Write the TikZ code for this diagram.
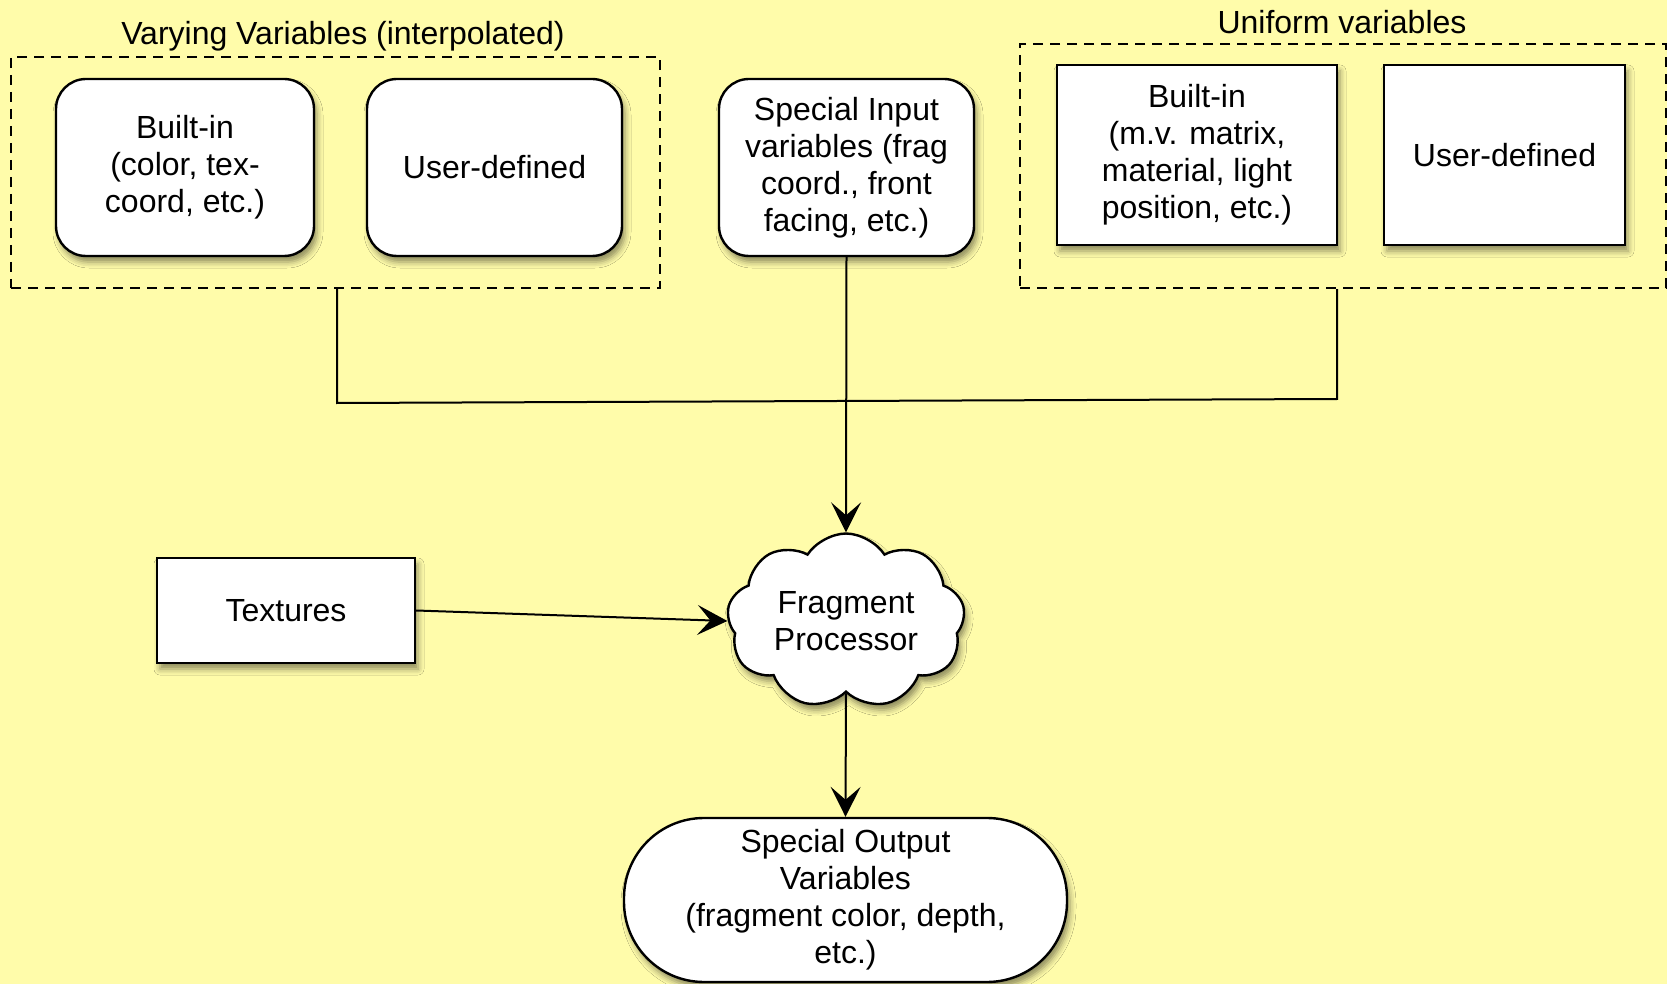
\documentclass[tikz,border=0pt]{standalone}
\usepackage{fontspec}
\setmainfont{Liberation Sans}
\usetikzlibrary{shapes.symbols,arrows.meta,shadows.blur,calc}
\definecolor{bg}{RGB}{255,252,170}
\begin{document}
\begin{tikzpicture}[x=0.5pt,y=-0.5pt,
  txt/.style={font=\fontsize{16}{18.5}\selectfont, align=center, inner sep=0pt},
  box/.style={txt, draw, line width=1.2pt, fill=white,
    blur shadow={shadow xshift=1.5pt, shadow yshift=-3pt, shadow blur radius=3pt, shadow opacity=45}},
  rbox/.style={box, rounded corners=15pt},
  group/.style={draw, dash pattern=on 5pt off 3.5pt, line width=1.2pt, inner sep=0pt},
  conn/.style={line width=1pt},
  arr/.style={conn, -{Stealth[length=15pt,width=15pt,inset=6.5pt]}}]
\fill[bg] (0,0) rectangle (1667,984);
\useasboundingbox (0,0) rectangle (1667,984);

% groups
\node[group, minimum width=324.5pt, minimum height=115.5pt] (vary) at (335.5,172.5) {};
\node[txt] (varyt) at (343,36) {Varying Variables (interpolated)};
\node[group, minimum width=323pt, minimum height=122pt] (unif) at (1343,166) {};
\node[txt] (unift) at (1342,22) {Uniform variables};

% top nodes
\node[rbox, minimum width=129pt, minimum height=88.5pt] (vbuilt) at (185,167.5) {Built-in\\(color, tex-\\coord, etc.)};
\node[rbox, minimum width=127.5pt, minimum height=88.5pt] (vuser) at (494.5,167.5) {User-defined};
\node[rbox, minimum width=127.5pt, minimum height=88.5pt] (sin) at (846.5,167.5) {Special Input\\variables (frag\\coord., front\\facing, etc.)};
\node[box, minimum width=140pt, minimum height=90pt] (ubuilt) at (1197,155) {Built-in\\(m.v. matrix,\\material, light\\position, etc.)};
\node[box, minimum width=120.5pt, minimum height=90pt] (uuser) at (1504.5,155) {User-defined};

% middle
\node[box, minimum width=129pt, minimum height=52.5pt] (tex) at (286,610.5) {Textures};
\node[box, cloud, cloud puffs=9, cloud puff arc=115, aspect=1.4, minimum width=119pt, minimum height=85pt] (cloud) at (846,621) {Fragment\\Processor};

% output
\node[box, rounded corners=40pt, minimum width=221.5pt, minimum height=82pt] (out) at (845.5,900) {Special Output\\Variables\\(fragment color, depth,\\etc.)};

% connectors
\coordinate (j1) at (337,403);
\coordinate (j2) at (1337,399);
\draw[conn] (vary.south -| j1) -- (j1) -- (j2) -- (unif.south -| j2);
\draw[arr] (sin.south) -- (cloud.north);
\draw[arr] (tex.east) -- (cloud.west);
\draw[arr] (cloud.south) -- (out.north);
\end{tikzpicture}
\end{document}
